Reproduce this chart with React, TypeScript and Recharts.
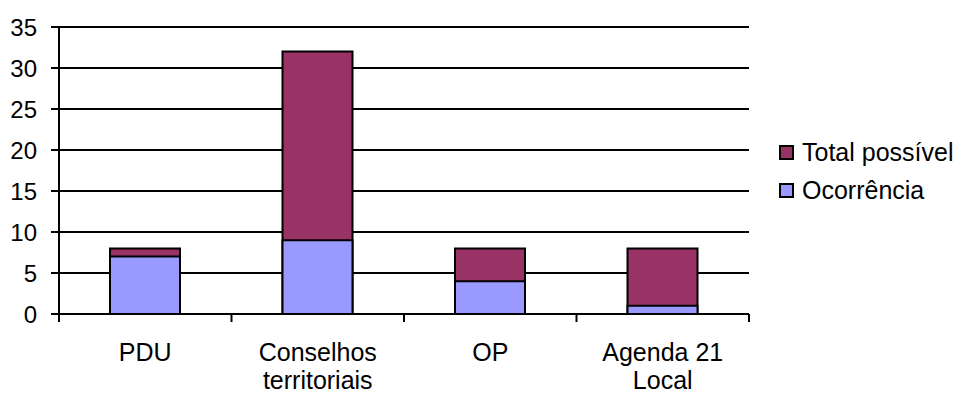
import React from 'react';
import { BarChart, Bar, XAxis, YAxis, CartesianGrid } from 'recharts';

// Instrumentos de participação
const categorias = ['PDU', 'Conselhos\nterritoriais', 'OP', 'Agenda 21\nLocal'];
const totalPossivel = [8, 32, 8, 8];
const ocorrencia = [7, 9, 4, 1];
const yTicks = [0, 5, 10, 15, 20, 25, 30, 35];

const COR_TOTAL = '#993366';
const COR_OCORRENCIA = '#9999FF';
const FONTE = '"Liberation Sans", Arial, sans-serif';
const TAM_NUM = 24;
const TAM_TEXTO = 25;

const data = categorias.map((nome, i) => ({
  nome,
  total: totalPossivel[i],
  ocorrencia: ocorrencia[i],
}));

const LARGURA = 968;
const ALTURA = 394;
const PLOT_ESQ = 59;
const PLOT_DIR = 749;
const FAIXA = (PLOT_DIR - PLOT_ESQ) / categorias.length;

// Rótulo do eixo X com quebra de linha e marcas entre categorias
const CategoriaTick = (props: any) => {
  const { x, y, payload, index } = props;
  const linhas = String(payload.value).split('\n');
  return (
    <g>
      <line x1={x - FAIXA / 2} x2={x - FAIXA / 2} y1={y} y2={y + 8} stroke="#000" strokeWidth={2} />
      {index === categorias.length - 1 && (
        <line x1={x + FAIXA / 2} x2={x + FAIXA / 2} y1={y} y2={y + 8} stroke="#000" strokeWidth={2} />
      )}
      {linhas.map((linha, i) => (
        <text
          key={i}
          x={x}
          y={y + 47 + i * 28}
          textAnchor="middle"
          fontSize={TAM_TEXTO}
          fontFamily={FONTE}
          fill="#000"
        >
          {linha}
        </text>
      ))}
    </g>
  );
};

const Legenda = () => {
  const itens = [
    { nome: 'Total possível', cor: COR_TOTAL },
    { nome: 'Ocorrência', cor: COR_OCORRENCIA },
  ];
  return (
    <div
      style={{
        position: 'absolute',
        left: 779,
        top: 133,
        fontFamily: FONTE,
        fontSize: TAM_TEXTO,
        color: '#000',
        whiteSpace: 'nowrap',
      }}
    >
      {itens.map((item) => (
        <div key={item.nome} style={{ display: 'flex', alignItems: 'center', height: 38 }}>
          <span
            style={{
              display: 'inline-block',
              width: 11,
              height: 11,
              background: item.cor,
              border: '2px solid #000',
              marginRight: 8,
            }}
          />
          <span>{item.nome}</span>
        </div>
      ))}
    </div>
  );
};

export default function App() {
  return (
    <div style={{ position: 'absolute', left: 0, top: 0, width: LARGURA, height: ALTURA, background: '#fff' }}>
      <BarChart
        width={LARGURA}
        height={ALTURA}
        data={data}
        margin={{ top: 27, right: LARGURA - PLOT_DIR, left: 0, bottom: 0 }}
        barSize={70}
        barGap={-70}
      >
        <CartesianGrid vertical={false} stroke="#000" strokeWidth={2} />
        <XAxis
          dataKey="nome"
          height={80}
          interval={0}
          axisLine={{ stroke: '#000', strokeWidth: 2 }}
          tickLine={false}
          tickSize={0}
          tickMargin={0}
          tick={<CategoriaTick />}
        />
        <YAxis
          width={PLOT_ESQ}
          domain={[0, 35]}
          ticks={yTicks}
          interval={0}
          axisLine={{ stroke: '#000', strokeWidth: 2 }}
          tickLine={{ stroke: '#000', strokeWidth: 2 }}
          tickSize={8}
          tickMargin={14}
          tick={{ fill: '#000', fontSize: TAM_NUM, fontFamily: FONTE }}
        />
        <Bar dataKey="total" name="Total possível" fill={COR_TOTAL} stroke="#000" strokeWidth={2} isAnimationActive={false} />
        <Bar dataKey="ocorrencia" name="Ocorrência" fill={COR_OCORRENCIA} stroke="#000" strokeWidth={2} isAnimationActive={false} />
      </BarChart>
      <Legenda />
    </div>
  );
}
